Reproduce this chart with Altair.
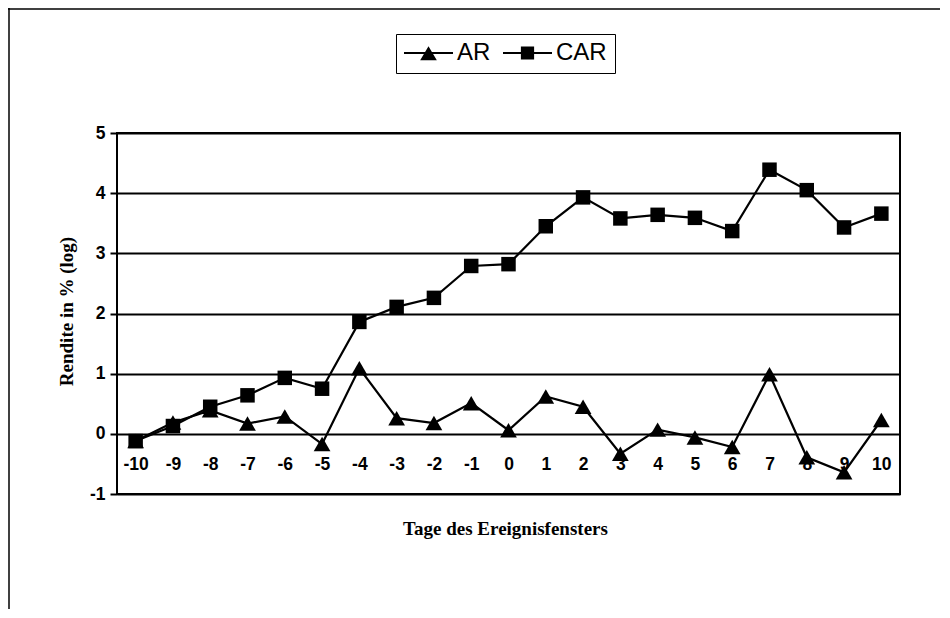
import altair as alt
import pandas as pd

days = list(range(-10, 11))
ar = [-0.12, 0.19, 0.39, 0.17, 0.29, -0.17, 1.09, 0.26, 0.18, 0.51, 0.06,
      0.62, 0.45, -0.33, 0.07, -0.06, -0.22, 0.99, -0.39, -0.64, 0.23]
car = [-0.12, 0.13, 0.45, 0.64, 0.93, 0.75, 1.86, 2.11, 2.26, 2.79, 2.82,
       3.45, 3.93, 3.58, 3.64, 3.59, 3.37, 4.39, 4.05, 3.43, 3.66]
series = ["AR", "CAR"]
y_ticks = [-1, 0, 1, 2, 3, 4, 5]

df = pd.DataFrame({
    "Tag": days * 2,
    "Wert": ar + car,
    "Reihe": ["AR"] * len(days) + ["CAR"] * len(days),
})

x_enc = alt.X(
    "Tag:O", sort=days,
    scale=alt.Scale(type="point", padding=0.5),
    axis=alt.Axis(
        title="Tage des Ereignisfensters", offset=-60, domain=False, ticks=False,
        labelPadding=21, labelAngle=0, labelFont="Liberation Sans", labelFontSize=17.5,
        labelFontWeight="bold", labelColor="black",
        titleFont="Liberation Serif", titleFontSize=19, titleFontWeight="bold",
        titleColor="black", titleX=388, titleY=94, titleBaseline="middle",
    ),
)
y_enc = alt.Y(
    "Wert:Q",
    scale=alt.Scale(domain=[-1, 5], nice=False, zero=False),
    axis=alt.Axis(
        values=y_ticks, labelExpr="'' + datum.value", title="Rendite in % (log)",
        grid=True, gridColor="black", gridWidth=2, gridOpacity=1,
        domain=False, tickColor="black", tickWidth=2, tickSize=7,
        labelPadding=5, labelFont="Liberation Sans", labelFontSize=17.5,
        labelFontWeight="bold", labelColor="black",
        titleFont="Liberation Serif", titleFontSize=19, titleFontWeight="bold",
        titleColor="black", titleX=-51, titleY=178, titleBaseline="middle",
    ),
)

base = alt.Chart(df)

lines = base.mark_line(color="black", strokeWidth=2.2).encode(
    x=x_enc, y=y_enc, detail="Reihe:N"
)

points = base.mark_point(filled=True, opacity=1, color="black").encode(
    x=x_enc, y=y_enc,
    shape=alt.Shape("Reihe:N", scale=alt.Scale(domain=series, range=["triangle-up", "square"]), legend=None),
    size=alt.Size("Reihe:N", scale=alt.Scale(domain=series, range=[280, 210]), legend=None),
)

path_ar = "M-1,-0.045H1V0.045H-1ZM0,-0.28L0.34,0.3L-0.34,0.3Z"
path_car = "M-1,-0.045H1V0.045H-1ZM-0.27,-0.27H0.27V0.27H-0.27Z"

legend_layer = base.mark_point(filled=True, opacity=0, color="black").encode(
    x=x_enc, y=y_enc,
    shape=alt.Shape(
        "Reihe:N",
        scale=alt.Scale(domain=series, range=[path_ar, path_car]),
        legend=alt.Legend(
            orient="none", legendX=279, legendY=-99, direction="horizontal",
            title=None, strokeColor="black", padding=8,
            symbolSize=2400, symbolFillColor="black", symbolStrokeWidth=0,
            symbolOpacity=1,
            labelFont="Liberation Sans", labelFontSize=24, labelColor="black",
            labelOffset=4, columnPadding=12, clipHeight=22,
        ),
    ),
)

frame_df = pd.DataFrame({"k": [0]})
frame_left = alt.Chart(frame_df).mark_rule(color="black", strokeWidth=1.5).encode(
    x=alt.value(-108), y=alt.value(-125), y2=alt.value(500)
)
frame_top = alt.Chart(frame_df).mark_rule(color="black", strokeWidth=1.5).encode(
    x=alt.value(-109), x2=alt.value(840), y=alt.value(-124)
)

chart = alt.layer(lines, points, legend_layer, frame_left, frame_top).resolve_scale(
    shape="independent", size="independent"
).properties(
    width=783, height=361,
    autosize=alt.AutoSizeParams(type="none"),
    padding={"left": 109, "top": 125, "right": 40, "bottom": 115},
    background="white",
).configure_view(stroke="black", strokeWidth=2)

chart.save("out.html", embed_options={"renderer": "svg", "actions": False})
